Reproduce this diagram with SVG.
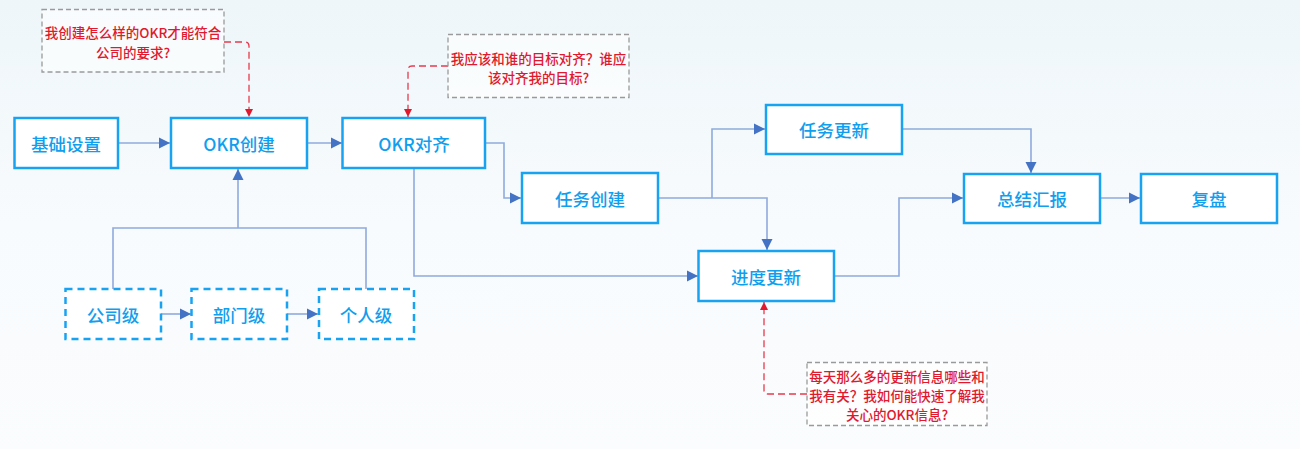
<svg xmlns="http://www.w3.org/2000/svg" width="1300" height="449" viewBox="0 0 1300 449">
<defs>
<linearGradient id="bg" x1="0" y1="0" x2="0" y2="1">
<stop offset="0" stop-color="#eef6fa"/>
<stop offset="0.5" stop-color="#f8fbfd"/>
<stop offset="1" stop-color="#fafcfd"/>
</linearGradient>
<marker id="ab" markerUnits="userSpaceOnUse" markerWidth="12" markerHeight="12" refX="11" refY="6" orient="auto">
<path d="M0,0.5 L11,6 L0,11.5 Z" fill="#4472C4"/>
</marker>
<marker id="ar" markerUnits="userSpaceOnUse" markerWidth="10" markerHeight="10" refX="8" refY="4.5" orient="auto">
<path d="M0,0.5 L8,4.5 L0,8.5 Z" fill="#E0192E"/>
</marker>
</defs>
<style>
.box{fill:#ffffff;stroke:#18A2F2;stroke-width:2.5}
.dbox{fill:#ffffff;stroke:#18A2F2;stroke-width:2.5;stroke-dasharray:7 5}
.lbl{font-family:"Noto Sans CJK SC","Noto Sans",sans-serif;font-size:17.5px;font-weight:500;fill:#109EEE;text-anchor:middle;dominant-baseline:central}
.note{fill:#ffffff;fill-opacity:0.6;stroke:#9a9a9a;stroke-width:1.3;stroke-dasharray:5 3}
.nt{font-family:"Noto Sans CJK SC","Noto Sans",sans-serif;font-size:13.5px;font-weight:500;fill:#E0192E;text-anchor:middle;dominant-baseline:central}
.c{fill:none;stroke:#8FAADC;stroke-width:1.6}
.r{fill:none;stroke:#E83A4C;stroke-width:1.3;stroke-dasharray:7 4}
</style>
<rect x="0" y="0" width="1300" height="449" fill="url(#bg)"/>
<g id="connectors">
<path class="c" d="M118,143 H170" marker-end="url(#ab)"/>
<path class="c" d="M307,143 H342" marker-end="url(#ab)"/>
<path class="c" d="M485,143 H504 V198 H521" marker-end="url(#ab)"/>
<path class="c" d="M414,168 V276 H698" marker-end="url(#ab)"/>
<path class="c" d="M658,198 H767 V250" marker-end="url(#ab)"/>
<path class="c" d="M712,198 V129 H765" marker-end="url(#ab)"/>
<path class="c" d="M902,129 H1031 V173" marker-end="url(#ab)"/>
<path class="c" d="M834,276 H899 V198 H963" marker-end="url(#ab)"/>
<path class="c" d="M1100,198 H1140" marker-end="url(#ab)"/>
<path class="c" d="M113,289 V228 H366 V289"/>
<path class="c" d="M238,228 V169" marker-end="url(#ab)"/>
<path class="c" d="M161,314 H191" marker-end="url(#ab)"/>
<path class="c" d="M287,314 H318" marker-end="url(#ab)"/>
<path class="r" d="M224,42 H245 Q249,42 249,46 V117" marker-end="url(#ar)"/>
<path class="r" d="M448,66 H412 Q408,66 408,70 V117" marker-end="url(#ar)"/>
<path class="r" d="M807,394 H768 Q764,394 764,390 V302" marker-end="url(#ar)"/>
</g>
<g id="n-jichu"><rect class="box" x="14.5" y="118" width="103.5" height="50"/><text class="lbl" x="66" y="143">基础设置</text></g>
<g id="n-okrcj"><rect class="box" x="171" y="118" width="136" height="50"/><text class="lbl" x="239" y="143">OKR创建</text></g>
<g id="n-okrdq"><rect class="box" x="342.5" y="118" width="142.5" height="50"/><text class="lbl" x="414" y="143">OKR对齐</text></g>
<g id="n-rwcj"><rect class="box" x="522" y="173" width="136" height="50"/><text class="lbl" x="590" y="198">任务创建</text></g>
<g id="n-rwgx"><rect class="box" x="766" y="105" width="136" height="49"/><text class="lbl" x="834" y="129.5">任务更新</text></g>
<g id="n-jdgx"><rect class="box" x="698.5" y="251" width="135.5" height="50"/><text class="lbl" x="766" y="276">进度更新</text></g>
<g id="n-zjhb"><rect class="box" x="964" y="174" width="136" height="49"/><text class="lbl" x="1032" y="198.5">总结汇报</text></g>
<g id="n-fp"><rect class="box" x="1141" y="174" width="136" height="49"/><text class="lbl" x="1209" y="198.5">复盘</text></g>
<g id="n-gsj"><rect class="dbox" x="65.5" y="289" width="95.5" height="50"/><text class="lbl" x="113" y="314">公司级</text></g>
<g id="n-bmj"><rect class="dbox" x="191.5" y="289" width="95.5" height="50"/><text class="lbl" x="239" y="314">部门级</text></g>
<g id="n-grj"><rect class="dbox" x="319" y="289" width="95" height="50"/><text class="lbl" x="366" y="314">个人级</text></g>
<g id="note1"><rect class="note" x="42" y="9.5" width="182" height="62.5"/><text class="nt" x="133" y="32">我创建怎么样的OKR才能符合</text><text class="nt" x="133" y="52">公司的要求?</text></g>
<g id="note2"><rect class="note" x="448" y="34.5" width="181" height="63"/><text class="nt" x="538.5" y="58">我应该和谁的目标对齐？谁应</text><text class="nt" x="538.5" y="77">该对齐我的目标?</text></g>
<g id="note3"><rect class="note" x="807" y="362.5" width="180" height="63"/><text class="nt" x="897" y="375.5">每天那么多的更新信息哪些和</text><text class="nt" x="897" y="395">我有关？我如何能快速了解我</text><text class="nt" x="897" y="413.5">关心的OKR信息?</text></g>
</svg>
